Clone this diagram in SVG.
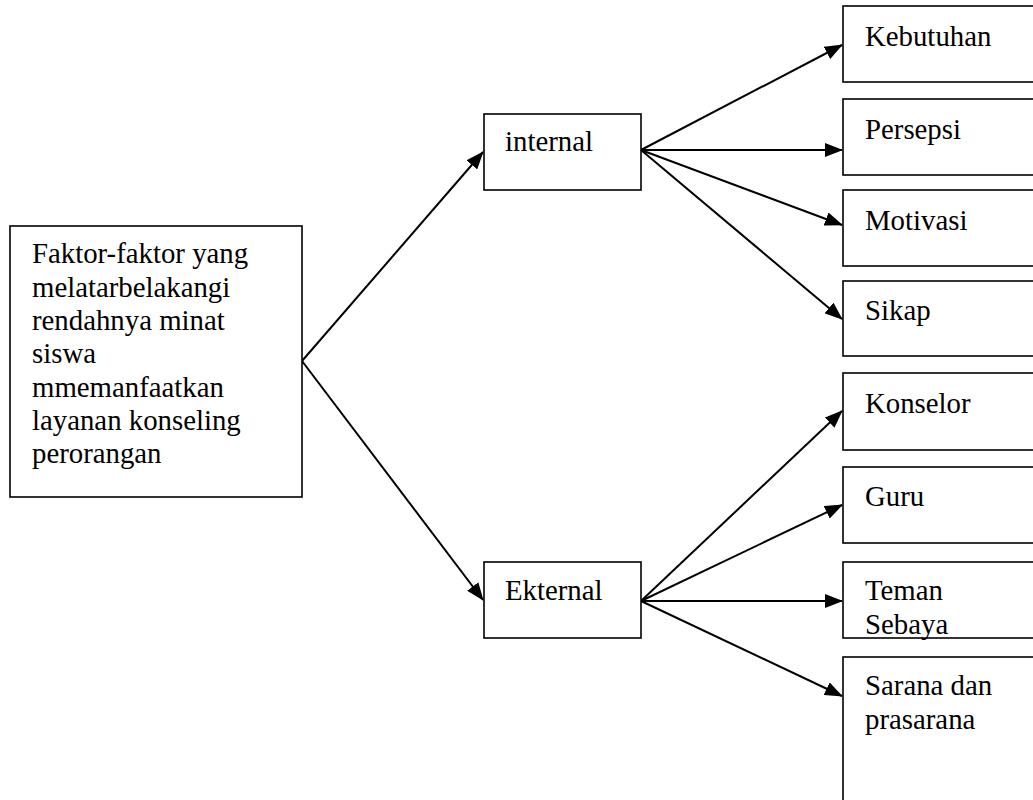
<svg xmlns="http://www.w3.org/2000/svg" width="1033" height="800" viewBox="0 0 1033 800">
<defs>
<style>
.box{fill:#fff;stroke:#000;stroke-width:1.6}
.t{font-family:'Liberation Serif','Times New Roman',serif;font-size:28.8px;fill:#000}
.c{stroke:#000;stroke-width:2;fill:none}
</style>
<marker id="ah" markerUnits="userSpaceOnUse" markerWidth="19" markerHeight="14" refX="17" refY="7" orient="auto">
<path d="M0,0 L18,7 L0,14 Z" fill="#000"/>
</marker>
</defs>
<rect width="1033" height="800" fill="#fff"/>
<g id="connectors">
<line class="c" x1="302" y1="361" x2="483" y2="152" marker-end="url(#ah)"/>
<line class="c" x1="302" y1="361" x2="483" y2="600" marker-end="url(#ah)"/>
<line class="c" x1="641" y1="150" x2="842" y2="45" marker-end="url(#ah)"/>
<line class="c" x1="641" y1="150" x2="842" y2="150" marker-end="url(#ah)"/>
<line class="c" x1="641" y1="150" x2="842" y2="225" marker-end="url(#ah)"/>
<line class="c" x1="641" y1="150" x2="842" y2="319" marker-end="url(#ah)"/>
<line class="c" x1="641" y1="601" x2="842" y2="411" marker-end="url(#ah)"/>
<line class="c" x1="641" y1="601" x2="842" y2="505" marker-end="url(#ah)"/>
<line class="c" x1="641" y1="601" x2="842" y2="601" marker-end="url(#ah)"/>
<line class="c" x1="641" y1="601" x2="842" y2="696" marker-end="url(#ah)"/>
</g>
<g id="main">
<rect class="box" x="10" y="226" width="292" height="271"/>
<text class="t" x="32" y="263">Faktor-faktor yang</text>
<text class="t" x="32" y="296.5">melatarbelakangi</text>
<text class="t" x="32" y="330">rendahnya minat</text>
<text class="t" x="32" y="363">siswa</text>
<text class="t" x="32" y="396.5">mmemanfaatkan</text>
<text class="t" x="32" y="430">layanan konseling</text>
<text class="t" x="32" y="463">perorangan</text>
</g>
<g id="internal">
<rect class="box" x="484" y="114" width="157" height="76"/>
<text class="t" x="505" y="151">internal</text>
</g>
<g id="ekternal">
<rect class="box" x="484" y="562" width="157" height="76"/>
<text class="t" x="505" y="600">Ekternal</text>
</g>
<g id="kebutuhan">
<rect class="box" x="843" y="6" width="220" height="76"/>
<text class="t" x="865" y="46">Kebutuhan</text>
</g>
<g id="persepsi">
<rect class="box" x="843" y="99" width="220" height="76"/>
<text class="t" x="865" y="139">Persepsi</text>
</g>
<g id="motivasi">
<rect class="box" x="843" y="190" width="220" height="76"/>
<text class="t" x="865" y="230">Motivasi</text>
</g>
<g id="sikap">
<rect class="box" x="843" y="281" width="220" height="75"/>
<text class="t" x="865" y="320">Sikap</text>
</g>
<g id="konselor">
<rect class="box" x="843" y="373" width="220" height="77"/>
<text class="t" x="865" y="413">Konselor</text>
</g>
<g id="guru">
<rect class="box" x="843" y="467" width="220" height="76"/>
<text class="t" x="865" y="506">Guru</text>
</g>
<g id="teman">
<rect class="box" x="843" y="562" width="220" height="76"/>
<text class="t" x="865" y="600">Teman</text>
<text class="t" x="865" y="634">Sebaya</text>
</g>
<g id="sarana">
<rect class="box" x="843" y="657" width="220" height="170"/>
<text class="t" x="865" y="695">Sarana dan</text>
<text class="t" x="865" y="729">prasarana</text>
</g>
</svg>
